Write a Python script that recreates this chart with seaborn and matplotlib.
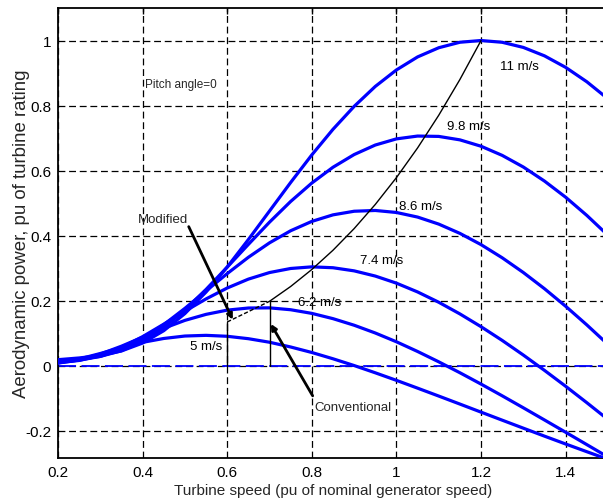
import matplotlib
matplotlib.use("Agg")
import matplotlib.pyplot as plt
import pandas as pd
import seaborn as sns

# turbine speed grid (pu) and read-off aerodynamic power (pu) per wind speed
speed = [0.20, 0.25, 0.30, 0.35, 0.40, 0.45, 0.50, 0.55, 0.60, 0.65, 0.70, 0.75, 0.80, 0.85,
         0.90, 0.95, 1.00, 1.05, 1.10, 1.15, 1.20, 1.25, 1.30, 1.35, 1.40, 1.45, 1.50]
wind_labels = ["5 m/s", "6.2 m/s", "7.4 m/s", "8.6 m/s", "9.8 m/s", "11 m/s"]
power_5 = [0.0094, 0.0213, 0.0381, 0.0561, 0.0724, 0.0843, 0.0918, 0.0939, 0.0910, 0.0836,
           0.0727, 0.0581, 0.0412, 0.0219, 0.0011, -0.0212, -0.0444, -0.0684, -0.0927, -0.1173,
           -0.1421, -0.1668, -0.1914, -0.2159, -0.2400, -0.2637, -0.2872]
power_62 = [0.0085, 0.0184, 0.0363, 0.0606, 0.0881, 0.1156, 0.1399, 0.1584, 0.1714, 0.1779,
            0.1784, 0.1726, 0.1614, 0.1452, 0.1250, 0.1011, 0.0741, 0.0443, 0.0125, -0.0210,
            -0.0559, -0.0919, -0.1288, -0.1662, -0.2039, -0.2419, -0.2800]
power_74 = [0.0096, 0.0167, 0.0319, 0.0567, 0.0899, 0.1283, 0.1680, 0.2059, 0.2394, 0.2667,
            0.2869, 0.2994, 0.3044, 0.3017, 0.2921, 0.2761, 0.2543, 0.2273, 0.1956, 0.1598,
            0.1205, 0.0783, 0.0333, -0.0138, -0.0626, -0.1130, -0.1647]
power_86 = [0.0120, 0.0175, 0.0291, 0.0507, 0.0836, 0.1268, 0.1769, 0.2304, 0.2837, 0.3338,
            0.3782, 0.4154, 0.4441, 0.4642, 0.4753, 0.4777, 0.4715, 0.4574, 0.4358, 0.4073,
            0.3727, 0.3323, 0.2870, 0.2372, 0.1833, 0.1261, 0.0659]
power_98 = [0.0153, 0.0202, 0.0293, 0.0466, 0.0759, 0.1180, 0.1722, 0.2351, 0.3035, 0.3734,
            0.4418, 0.5054, 0.5620, 0.6105, 0.6495, 0.6788, 0.6977, 0.7064, 0.7053, 0.6947,
            0.6751, 0.6470, 0.6112, 0.5680, 0.5184, 0.4626, 0.4013]
power_11 = [0.0191, 0.0244, 0.0319, 0.0459, 0.0702, 0.1082, 0.1608, 0.2271, 0.3039, 0.3883,
            0.4760, 0.5638, 0.6485, 0.7271, 0.7975, 0.8589, 0.9096, 0.9496, 0.9778, 0.9947,
            1.0000, 0.9946, 0.9788, 0.9529, 0.9175, 0.8733, 0.8208]

# optimum power tracking curve
mppt_speed = [0.70, 0.75, 0.80, 0.85, 0.90, 0.95, 1.00, 1.05, 1.10, 1.15, 1.20]
mppt_power = [0.1985, 0.2441, 0.2963, 0.3554, 0.4219, 0.4962, 0.5787, 0.6699, 0.7703, 0.8801, 1.0000]

# conventional / modified start-up segments
conv_x = [0.70, 0.70]
conv_y = [0.0, 0.1985]
mod_x = [0.60, 0.60]
mod_y = [0.0, 0.135]
mod_link_x = [0.60, 0.70]
mod_link_y = [0.135, 0.1985]

zero_x = [0.2, 1.5]
zero_y = [0.0, 0.0]

xticks = [0.2, 0.4, 0.6, 0.8, 1.0, 1.2, 1.4]
xtick_labels = ["0.2", "0.4", "0.6", "0.8", "1", "1.2", "1.4"]
yticks = [-0.2, 0.0, 0.2, 0.4, 0.6, 0.8, 1.0]
ytick_labels = ["-0.2", "0", "0.2", "0.4", "0.6", "0.8", "1"]

curves = pd.DataFrame({
    "speed": speed * 6,
    "power": power_5 + power_62 + power_74 + power_86 + power_98 + power_11,
    "wind": [w for w in wind_labels for _ in speed],
})
zero_df = pd.DataFrame({"x": zero_x, "y": zero_y})

sns.set_theme(style="white")
plt.rcParams["font.family"] = ["Liberation Sans", "DejaVu Sans"]

fig = plt.figure(figsize=(6.03, 5.02), dpi=100)
ax = fig.add_axes([0.0962, 0.0857, 0.912, 0.8964])

ax.grid(True, color="black", linestyle=(0, (5.5, 3)), linewidth=0.9)
ax.set_axisbelow(True)

sns.lineplot(data=zero_df, x="x", y="y", color="blue", linewidth=1.3, ax=ax, zorder=2)
ax.lines[-1].set_dashes((10, 3))

sns.lineplot(data=curves, x="speed", y="power", hue="wind", palette=["blue"] * 6,
             linewidth=2.3, legend=False, ax=ax, zorder=3)

sns.lineplot(x=mppt_speed, y=mppt_power, color="black", linewidth=1.0, ax=ax, zorder=4)
ax.plot(conv_x, conv_y, color="black", linewidth=1.0, zorder=4)
ax.plot(mod_x, mod_y, color="black", linewidth=1.0, zorder=4)
ax.plot(mod_link_x, mod_link_y, color="black", linewidth=1.0, linestyle=(0, (3, 1.5)), zorder=4)

label_pos = [(0.512, 0.062), (0.767, 0.197), (0.913, 0.327), (1.006, 0.491), (1.119, 0.738), (1.244, 0.923)]
for lab, (lx, ly) in zip(wind_labels, label_pos):
    ax.text(lx, ly, lab, fontsize=9.5, ha="left", va="center", color="black", zorder=5)

ax.text(0.405, 0.865, "Pitch angle=0", fontsize=8.5, ha="left", va="center", zorder=5)

arrow_style = dict(arrowstyle="-|>", color="black", lw=2.0, mutation_scale=8, shrinkA=0, shrinkB=0)
ax.text(0.389, 0.452, "Modified", fontsize=9.5, ha="left", va="center", zorder=6)
ax.annotate("", xy=(0.613, 0.142), xytext=(0.509, 0.428), arrowprops=arrow_style, zorder=6)
ax.text(0.807, -0.126, "Conventional", fontsize=9.5, ha="left", va="center", zorder=6)
ax.annotate("", xy=(0.703, 0.129), xytext=(0.802, -0.092), arrowprops=arrow_style, zorder=6)

ax.set_xlim(0.2, 1.5)
ax.set_ylim(-0.283, 1.1)
ax.set_xticks(xticks)
ax.set_xticklabels(xtick_labels)
ax.set_yticks(yticks)
ax.set_yticklabels(ytick_labels)
ax.tick_params(direction="in", length=4, width=1, top=True, right=True, labelsize=11,
               colors="black", pad=5)
for sp in ax.spines.values():
    sp.set_color("black")
    sp.set_linewidth(1.3)

ax.set_xlabel("Turbine speed (pu of nominal generator speed)", fontsize=11, labelpad=3)
ax.set_ylabel("Aerodynamic power, pu of turbine rating", fontsize=13.4, labelpad=-4)

fig.savefig("out.png", dpi=100)
